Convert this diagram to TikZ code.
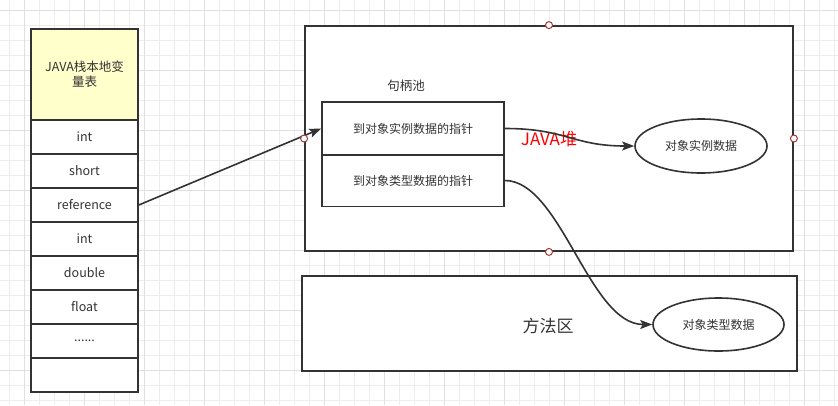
\documentclass[tikz,border=0pt]{standalone}
\usepackage{fontspec}
\setmainfont{Noto Sans CJK SC}
\usetikzlibrary{shapes.geometric,arrows.meta}
\definecolor{txt}{HTML}{333333}
\definecolor{gminor}{HTML}{EDEDED}
\definecolor{gmajor}{HTML}{E0E0E0}
\definecolor{hdr}{HTML}{FFFFCC}
\definecolor{cpt}{HTML}{A33A3A}
\tikzset{
  cell/.style={draw=txt, line width=1.6pt, minimum width=107pt, minimum height=34pt, inner sep=0pt, text=txt, font=\fontsize{12.5}{15}\selectfont},
  box/.style={draw=txt, line width=1.8pt, inner sep=0pt, fill=white},
  hcell/.style={draw=txt, line width=1.6pt, minimum width=182pt, inner sep=0pt, text=txt, font=\fontsize{12}{15}\selectfont},
  oval/.style={ellipse, draw=txt, line width=1.6pt, inner sep=0pt, fill=white, text=txt, font=\fontsize{12}{15}\selectfont},
  arr/.style={draw=txt, line width=1.6pt, -{Stealth[length=12pt,width=9pt,inset=2.5pt]}},
  cpoint/.style={circle, draw=cpt, fill=white, line width=1pt, minimum size=7pt, inner sep=0pt},
  lbl/.style={text=txt, inner sep=0pt}
}
\begin{document}
\begin{tikzpicture}[x=1pt,y=-1pt]
\useasboundingbox (0,0) rectangle (838,405);
\fill[white] (0,0) rectangle (838,405);
% grid
\foreach \x in {9,24,...,834} \draw[gminor, line width=0.8pt] (\x,0) -- (\x,405);
\foreach \y in {10,25,...,400} \draw[gminor, line width=0.8pt] (0,\y) -- (838,\y);
\foreach \x in {24,84,...,834} \draw[gmajor, line width=0.8pt] (\x,0) -- (\x,405);
\foreach \y in {10,70,...,400} \draw[gmajor, line width=0.8pt] (0,\y) -- (838,\y);
% stack
\fill[white] (31,120) rectangle (138,392);
\node[cell, fill=hdr, minimum height=91pt, align=center] (hd) at (84.5,74.5) {JAVA栈本地变\\量表};
\node[cell] (c1) at (84.5,137) {int};
\node[cell] (c2) at (84.5,171) {short};
\node[cell] (ref) at (84.5,205) {reference};
\node[cell] (c4) at (84.5,239) {int};
\node[cell] (c5) at (84.5,273) {double};
\node[cell] (c6) at (84.5,307) {float};
\node[cell] (c7) at (84.5,341) {......};
\node[cell] (c8) at (84.5,375) {};
% heap
\node[box, minimum width=488pt, minimum height=225pt] (heap) at (549,138.5) {};
\node[lbl, font=\fontsize{17}{19}\selectfont, text=red] (heaplbl) at (549,139) {JAVA堆};
\node[lbl, font=\fontsize{12.5}{15}\selectfont] (pool) at (406,86) {句柄池};
\node[hcell, minimum height=53pt] (r1) at (413,128.5) {到对象实例数据的指针};
\node[hcell, minimum height=52pt] (r2) at (413,180.5) {到对象类型数据的指针};
\node[oval, minimum width=132pt, minimum height=54pt] (e1) at (701,146) {对象实例数据};
% method area
\node[box, minimum width=495pt, minimum height=95pt] (meth) at (549.5,323.5) {};
\node[lbl, font=\fontsize{17}{19}\selectfont] (methlbl) at (548,326) {方法区};
\node[oval, minimum width=131pt, minimum height=53pt] (e2) at (718.5,324.5) {对象类型数据};
% connectors
\draw[arr] (ref.east) -- (r1.west);
\draw[arr] (r1.east) .. controls +(62,0) and +(-62,0) .. (e1.west);
\draw[arr] (r2.east) .. controls +(56,0) and +(-63,0) .. (e2.west);
% connection points
\node[cpoint] (p1) at (heap.north) {};
\node[cpoint] (p2) at (heap.south) {};
\node[cpoint] (p3) at (heap.west) {};
\node[cpoint] (p4) at (heap.east) {};
\end{tikzpicture}
\end{document}
